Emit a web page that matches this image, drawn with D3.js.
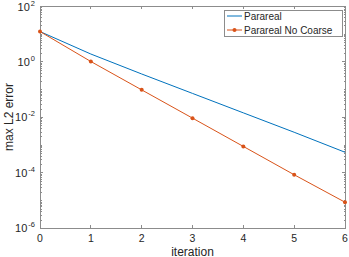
<!DOCTYPE html>
<html>
<head>
<meta charset="utf-8">
<script src="https://cdn.jsdelivr.net/npm/d3@7"></script>
<style>
  body { margin: 0; background: #fff; }
  text { font-family: "Liberation Sans", Arial, Helvetica, sans-serif; fill: #262626; }
</style>
</head>
<body>
<svg width="349" height="257"></svg>
<script>
// values
const iterations = [0, 1, 2, 3, 4, 5, 6];
const parareal = [12, 1.86, 0.355, 0.0708, 0.0141, 0.00282, 0.000537];
const noCoarse = [12, 1.0, 0.095, 0.0091, 0.00087, 0.000083, 0.0000085];
const yTickExps = [-6, -4, -2, 0, 2];

const margin = {left: 40, right: 4, top: 6, bottom: 29};
const W = 349, H = 257;
const svg = d3.select("svg");

const x = d3.scaleLinear().domain([0, 6]).range([margin.left, W - margin.right]);
const y = d3.scaleLog().domain([1e-6, 1e2]).range([H - margin.bottom, margin.top]);

const axisColor = "#8c8c8c";
const tickLen = 3;

// box
svg.append("rect")
  .attr("x", x(0)).attr("y", y(1e2))
  .attr("width", x(6) - x(0)).attr("height", y(1e-6) - y(1e2))
  .attr("fill", "none").attr("stroke", axisColor).attr("stroke-width", 1)
  .attr("shape-rendering", "crispEdges");

// x ticks (bottom and top, inward)
const gx = svg.append("g").attr("shape-rendering", "crispEdges");
iterations.forEach(t => {
  gx.append("line").attr("x1", x(t)).attr("x2", x(t))
    .attr("y1", y(1e-6)).attr("y2", y(1e-6) - tickLen).attr("stroke", axisColor);
  gx.append("line").attr("x1", x(t)).attr("x2", x(t))
    .attr("y1", y(1e2)).attr("y2", y(1e2) + tickLen).attr("stroke", axisColor);
  svg.append("text").attr("x", x(t)).attr("y", 242)
    .attr("text-anchor", "middle").style("font-size", "10.5px").text(t);
});

// y ticks: major at labeled decades, minor elsewhere
const gy = svg.append("g").attr("shape-rendering", "crispEdges");
for (let e = -6; e < 2; e++) {
  for (let m = 1; m < 10; m++) {
    const v = m * Math.pow(10, e);
    const major = m === 1 && yTickExps.includes(e);
    const len = major ? tickLen : 1.5;
    if (major) continue;
    gy.append("line").attr("x1", x(0)).attr("x2", x(0) + len)
      .attr("y1", Math.round(y(v)) + 0.5).attr("y2", Math.round(y(v)) + 0.5).attr("stroke", axisColor);
    gy.append("line").attr("x1", x(6)).attr("x2", x(6) - len)
      .attr("y1", Math.round(y(v)) + 0.5).attr("y2", Math.round(y(v)) + 0.5).attr("stroke", axisColor);
  }
}
yTickExps.forEach(e => {
  const v = Math.pow(10, e);
  gy.append("line").attr("x1", x(0)).attr("x2", x(0) + tickLen)
    .attr("y1", y(v)).attr("y2", y(v)).attr("stroke", axisColor);
  gy.append("line").attr("x1", x(6)).attr("x2", x(6) - tickLen)
    .attr("y1", y(v)).attr("y2", y(v)).attr("stroke", axisColor);
  // top label is nudged down so its exponent stays inside the picture
  const base = Math.max(y(v) + 4, 11);
  const t = svg.append("text").attr("x", 35).attr("y", base)
    .attr("text-anchor", "end").style("font-size", "11px");
  t.append("tspan").text("10");
  t.append("tspan").attr("dx", 1).attr("dy", -5).style("font-size", "7.5px").text(e);
});

// lines
const line = d3.line().x((d, i) => x(iterations[i])).y(d => y(d));
svg.append("path").datum(parareal).attr("d", line)
  .attr("fill", "none").attr("stroke", "#0072BD").attr("stroke-width", 1);
svg.append("path").datum(noCoarse).attr("d", line)
  .attr("fill", "none").attr("stroke", "#D95319").attr("stroke-width", 1);
svg.selectAll("circle.m").data(noCoarse).enter().append("circle")
  .attr("cx", (d, i) => x(iterations[i])).attr("cy", d => y(d))
  .attr("r", 2).attr("fill", "#D95319");

// axis labels
svg.append("text").attr("x", (x(0) + x(6)) / 2).attr("y", 255.5)
  .attr("text-anchor", "middle").style("font-size", "12px").text("iteration");
svg.append("text")
  .attr("transform", `translate(12.5,${(y(1e-6) + y(1e2)) / 2}) rotate(-90)`)
  .attr("text-anchor", "middle").style("font-size", "12px").text("max L2 error");

// legend
const lg = svg.append("g");
lg.append("rect").attr("x", 224.5).attr("y", 10.5).attr("width", 118).attr("height", 26)
  .attr("fill", "#fff").attr("stroke", axisColor);
lg.append("line").attr("x1", 227).attr("x2", 242).attr("y1", 16).attr("y2", 16)
  .attr("stroke", "#0072BD");
lg.append("line").attr("x1", 227).attr("x2", 242).attr("y1", 30).attr("y2", 30)
  .attr("stroke", "#D95319");
lg.append("circle").attr("cx", 234.5).attr("cy", 30).attr("r", 2).attr("fill", "#D95319");
lg.append("text").attr("x", 244).attr("y", 19.5).style("font-size", "10px").text("Parareal");
lg.append("text").attr("x", 244).attr("y", 33.5).style("font-size", "10px").text("Parareal No Coarse");
</script>
</body>
</html>
